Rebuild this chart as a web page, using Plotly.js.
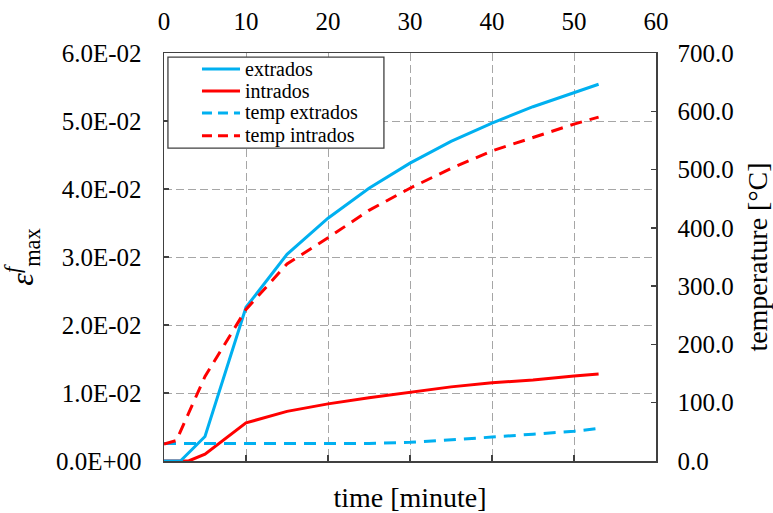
<!DOCTYPE html>
<html><head><meta charset="utf-8">
<script src="https://cdn.plot.ly/plotly-3.0.1.min.js"></script>
<style>
html,body{margin:0;padding:0;background:#fff}
#chart svg text{font-family:"Liberation Serif","Times New Roman",serif !important}
</style>
</head><body><div id="chart" style="width:773px;height:513px"></div>
<script>
// strain data (left axis)
const timeExtrados = [0, 2, 5, 10, 15, 20, 25, 30, 35, 40, 45, 50, 53];
const strainExtrados = [0, 0, 0.0036, 0.0226, 0.0304, 0.0357, 0.0401, 0.0438, 0.0470, 0.0497, 0.0521, 0.0541, 0.0554];
const timeIntrados = [0, 3, 5, 10, 15, 20, 25, 30, 35, 40, 45, 50, 53];
const strainIntrados = [0, 0, 0.0010, 0.0056, 0.0073, 0.0084, 0.0093, 0.0101, 0.0109, 0.0115, 0.0119, 0.0125, 0.0128];
// temperature data (right axis)
const timeTempExtrados = [0, 5, 10, 15, 20, 25, 30, 35, 40, 45, 50, 53];
const tempExtrados = [30, 30, 29, 29, 29, 30, 32, 36, 41, 46, 51, 56];
const timeTempIntrados = [0, 1.5, 5, 10, 15, 20, 25, 30, 35, 40, 45, 50, 53];
const tempIntrados = [29, 35, 145, 260, 338, 383, 430, 468, 502, 532, 555, 578, 590];
// tick labels
const strainTickVals = [0, 0.01, 0.02, 0.03, 0.04, 0.05, 0.06];
const strainTickText = ['0.0E+00', '1.0E-02', '2.0E-02', '3.0E-02', '4.0E-02', '5.0E-02', '6.0E-02'];
const seriesNames = ['extrados', 'intrados', 'temp extrados', 'temp intrados'];

const BLUE = '#00b0f0', RED = '#ff0000';
const FONT = 'Liberation Serif';
const AX = '#404040', GRID = '#a6a6a6';
const styles = [
  {color: BLUE, dash: 'solid'},
  {color: RED, dash: 'solid'},
  {color: BLUE, dash: '12px,8px'},
  {color: RED, dash: '12px,8px'}
];

const traces = [
  {x: timeTempExtrados, y: tempExtrados, xaxis: 'x2', yaxis: 'y2'},
  {x: timeTempIntrados, y: tempIntrados, xaxis: 'x2', yaxis: 'y2'},
  {x: timeIntrados, y: strainIntrados, xaxis: 'x', yaxis: 'y'},
  {x: timeExtrados, y: strainExtrados, xaxis: 'x', yaxis: 'y'}
];
const order = [2, 3, 1, 0];
traces.forEach((t, i) => {
  const s = styles[order[i]];
  t.type = 'scatter'; t.mode = 'lines'; t.name = seriesNames[order[i]];
  t.line = {color: s.color, width: 3, dash: s.dash};
  t.showlegend = false;
  t.hoverinfo = 'skip';
});

// custom legend (box, sample lines, text) in paper coordinates
const legY = [0.961, 0.907, 0.853, 0.797];
const shapes = [{type: 'rect', xref: 'paper', yref: 'paper', x0: 0.008, x1: 0.447, y0: 0.767, y1: 0.99,
  line: {color: AX, width: 1.3}, fillcolor: 'rgba(255,255,255,1)', layer: 'above'}];
const annotations = [];
seriesNames.forEach((n, i) => {
  const s = styles[i];
  shapes.push({type: 'line', xref: 'paper', yref: 'paper', x0: 0.0772, x1: 0.1545, y0: legY[i], y1: legY[i],
    line: {color: s.color, width: 3, dash: s.dash === 'solid' ? 'solid' : '10px,6px'}, layer: 'above'});
  annotations.push({xref: 'paper', yref: 'paper', x: 0.1606, y: legY[i], xanchor: 'left', yanchor: 'middle',
    text: n, showarrow: false, font: {family: FONT, size: 20, color: '#000'}});
});

const tickFont = {family: FONT, size: 25, color: '#000'};
const layout = {
  width: 773, height: 513,
  margin: {l: 164, r: 117, t: 53, b: 52},
  paper_bgcolor: '#fff', plot_bgcolor: '#fff',
  font: {family: FONT, color: '#000', size: 24},
  showlegend: false,
  xaxis: {range: [0, 60], dtick: 10, showticklabels: false, ticks: 'inside', ticklen: 6, tickcolor: AX, tickwidth: 1.3,
    showline: true, linecolor: AX, linewidth: 1.5, showgrid: true, gridcolor: GRID, griddash: '8px,4px', gridwidth: 1,
    zeroline: false, title: {text: 'time [minute]', font: {family: FONT, size: 28, color: '#000'}, standoff: 27}},
  xaxis2: {overlaying: 'x', side: 'top', range: [0, 60], dtick: 10, ticks: '', showline: true, linecolor: AX, linewidth: 1.5,
    showgrid: false, zeroline: false, tickfont: tickFont, ticklabelstandoff: 12},
  yaxis: {range: [0, 0.06], tickvals: strainTickVals, ticktext: strainTickText, ticks: 'inside', ticklen: 5, tickcolor: AX, tickwidth: 1.3,
    showline: true, linecolor: AX, linewidth: 1.5, showgrid: true, gridcolor: GRID, griddash: '8px,4px', gridwidth: 1,
    zeroline: false, tickfont: tickFont, ticklabelstandoff: 16,
    title: {text: '<i>ε</i><sup><i>f</i></sup><sub>max</sub>', font: {family: FONT, size: 32, color: '#000'}, standoff: 14}},
  yaxis2: {overlaying: 'y', side: 'right', range: [0, 700], dtick: 100, tickformat: '.1f', ticks: 'inside', ticklen: 5,
    tickcolor: AX, tickwidth: 1.3, showline: true, linecolor: AX, linewidth: 1.5, showgrid: false, zeroline: false,
    tickfont: tickFont, ticklabelstandoff: 15,
    title: {text: 'temperature [°C]', font: {family: FONT, size: 28, color: '#000'}, standoff: 14}},
  shapes: shapes,
  annotations: annotations
};

Plotly.newPlot('chart', traces, layout, {displayModeBar: false, staticPlot: true});
</script>
</body></html>
